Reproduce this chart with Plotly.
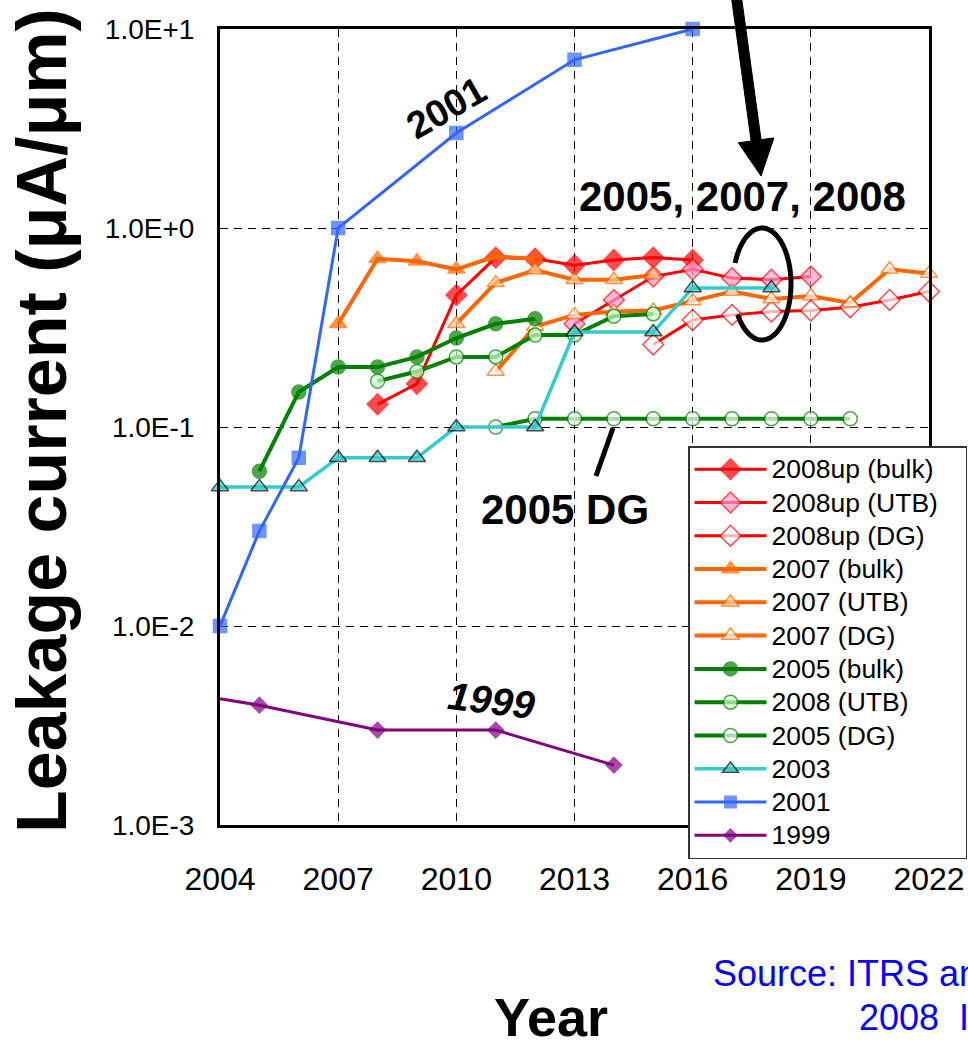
import numpy as np
import plotly.graph_objects as go

# ---------------- data (leakage current, uA/um) ----------------
years_08up_bulk = [2008, 2009, 2010, 2011, 2012, 2013, 2014, 2015, 2016]
leak_08up_bulk = [0.13, 0.165, 0.46, 0.71, 0.70, 0.65, 0.69, 0.71, 0.69]

years_08up_utb = [2013, 2014, 2015, 2016, 2017, 2018, 2019]
leak_08up_utb = [0.33, 0.435, 0.57, 0.62, 0.56, 0.55, 0.57]

years_08up_dg = [2015, 2016, 2017, 2018, 2019, 2020, 2021, 2022]
leak_08up_dg = [0.26, 0.345, 0.366, 0.38, 0.385, 0.40, 0.435, 0.48]

years_07_bulk = [2007, 2008, 2009, 2010, 2011, 2012]
leak_07_bulk = [0.33, 0.70, 0.68, 0.62, 0.72, 0.70]

years_07_utb = [2010, 2011, 2012, 2013, 2014, 2015]
leak_07_utb = [0.33, 0.53, 0.615, 0.55, 0.55, 0.58]

years_07_dg = [2011, 2012, 2013, 2014, 2015, 2016, 2017, 2018, 2019, 2020, 2021, 2022]
leak_07_dg = [0.19, 0.32, 0.366, 0.38, 0.385, 0.43, 0.48, 0.44, 0.455, 0.42, 0.62, 0.59]

years_05_bulk = [2005, 2006, 2007, 2008, 2009, 2010, 2011, 2012]
leak_05_bulk = [0.06, 0.15, 0.20, 0.20, 0.225, 0.28, 0.33, 0.35]

years_08_utb = [2008, 2009, 2010, 2011, 2012, 2013, 2014, 2015]
leak_08_utb = [0.17, 0.19, 0.225, 0.225, 0.29, 0.29, 0.36, 0.37]

years_05_dg = [2011, 2012, 2013, 2014, 2015, 2016, 2017, 2018, 2019, 2020]
leak_05_dg = [0.10, 0.11, 0.11, 0.11, 0.11, 0.11, 0.11, 0.11, 0.11, 0.11]

years_03 = [2003, 2004, 2005, 2006, 2007, 2008, 2009, 2010, 2012, 2013, 2015, 2016, 2018]
leak_03 = [0.03, 0.05, 0.05, 0.05, 0.07, 0.07, 0.07, 0.10, 0.10, 0.30, 0.30, 0.50, 0.50]

years_01 = [2003, 2004, 2005, 2006, 2007, 2010, 2013, 2016]
leak_01 = [0.08, 0.01, 0.03, 0.07, 1.0, 3.0, 7.0, 10.0]

years_99 = [2002, 2005, 2008, 2011, 2014]
leak_99 = [0.005, 0.004, 0.003, 0.003, 0.002]

x_ticks = [2004, 2007, 2010, 2013, 2016, 2019, 2022]
y_ticks = [1e-3, 1e-2, 1e-1, 1e0, 1e1]
y_tick_text = ["1.0E-3", "1.0E-2", "1.0E-1", "1.0E+0", "1.0E+1"]

# ---------------- styling ----------------
RED, PINK = "#FF0000", "#FF99CC"
ORANGE, PEACH = "#FF6600", "#FFCC99"
GREEN, LIGHTGREEN = "#008000", "#CCFFCC"
CYAN, BLUE, PURPLE = "#33CCCC", "#3366FF", "#800080"

FONT = "Liberation Sans, Arial, sans-serif"

series = [
    ("2008up (bulk)", years_08up_bulk, leak_08up_bulk, RED, 3, "diamond", 16, RED, RED),
    ("2008up (UTB)", years_08up_utb, leak_08up_utb, RED, 3, "diamond", 16, PINK, RED),
    ("2008up (DG)", years_08up_dg, leak_08up_dg, RED, 3, "diamond", 16, "white", RED),
    ("2007 (bulk)", years_07_bulk, leak_07_bulk, ORANGE, 4, "triangle-up", 15, ORANGE, ORANGE),
    ("2007 (UTB)", years_07_utb, leak_07_utb, ORANGE, 4, "triangle-up", 15, PEACH, ORANGE),
    ("2007 (DG)", years_07_dg, leak_07_dg, ORANGE, 4, "triangle-up", 15, "white", ORANGE),
    ("2005 (bulk)", years_05_bulk, leak_05_bulk, GREEN, 4, "circle", 14, GREEN, GREEN),
    ("2008 (UTB)", years_08_utb, leak_08_utb, GREEN, 4, "circle", 14, LIGHTGREEN, GREEN),
    ("2005 (DG)", years_05_dg, leak_05_dg, GREEN, 4, "circle", 14, "white", GREEN),
    ("2003", years_03, leak_03, CYAN, 3.5, "triangle-up", 15, CYAN, "black"),
    ("2001", years_01, leak_01, BLUE, 3, "square", 13, BLUE, BLUE),
    ("1999", years_99, leak_99, PURPLE, 3, "diamond", 12, PURPLE, PURPLE),
]

X_MIN, X_MAX = x_ticks[0], x_ticks[-1]
PAD = "\u00a0" * 3  # widens the legend box toward the right edge

fig = go.Figure()
for name, xs, ys, lc, lw, sym, ms, fill, edge in series:
    # points before the first axis year only feed the line that runs off the frame
    sizes = [0 if x < X_MIN else ms for x in xs]
    fig.add_trace(go.Scatter(
        x=xs, y=ys, mode="lines+markers",
        name='<span style="font-size:26.5px">' + name + PAD + "</span>",
        line=dict(color=lc, width=lw),
        marker=dict(symbol=sym, size=sizes, color=fill,
                    line=dict(color=edge, width=1.5)),
        cliponaxis=False,
    ))

# ---------------- frame geometry (pixels) ----------------
W, H = 968, 1047
L, R, T, B = 220, 929, 29, 825


def paper(px, py):
    return (px - L) / (R - L), (B - py) / (B - T)


def path_from(points):
    pts = [paper(x, y) for x, y in points]
    return "M" + " L".join(f"{x:.5f},{y:.5f}" for x, y in pts)


shapes = []

# bold arrow pointing at the grouped curves
tail = np.array([736.0, -6.0])
tip = np.array([761.0, 176.0])
d = (tip - tail) / np.linalg.norm(tip - tail)
n = np.array([d[1], -d[0]])
base = tip - 36 * d
arrow = [tail + 5 * n, base + 5 * n, base + 18 * n, tip,
         base - 18 * n, base - 5 * n, tail - 5 * n]
shapes.append(dict(type="path", xref="paper", yref="paper",
                   path=path_from(arrow) + " Z",
                   fillcolor="black", line=dict(color="black", width=1)))

# open ellipse around the clustered curves
t = np.radians(np.linspace(-147, 158, 80))
cx, cy, rx, ry = 762, 284, 29, 56
ell = list(zip(cx + rx * np.cos(t), cy - ry * np.sin(t)))
shapes.append(dict(type="path", xref="paper", yref="paper",
                   path=path_from(ell), line=dict(color="black", width=5)))

# leader line for the 2005 DG label
shapes.append(dict(type="path", xref="paper", yref="paper",
                   path=path_from([(613, 428), (596, 476)]),
                   line=dict(color="black", width=5)))

annotations = []


def label(text, px, py, size, angle=0, color="black", xanchor="center"):
    x, y = paper(px, py)
    annotations.append(dict(text=text, x=x, y=y, xref="paper", yref="paper",
                            showarrow=False, textangle=angle, xanchor=xanchor,
                            yanchor="middle", font=dict(size=size, family=FONT, color=color)))


label("<b>2001</b>", 446, 108, 38, angle=-30)
label("<b>2005, 2007, 2008</b>", 742, 196, 42)
label("<b>2005 DG</b>", 565, 510, 42)
label("<b><i>1999</i></b>", 491, 700, 39, angle=7)
label("<b>Leakage current (μA/μm)</b>", 42, 421, 70, angle=-90)
label("<b>Year</b>", 551, 1017, 54)
label("Source: ITRS and", 711, 973, 36, color="#0000FF", xanchor="left")
label("2008  ITRS update", 857, 1017, 36, color="#0000FF", xanchor="left")

lx, ly = paper(688, 446)

fig.update_layout(
    width=W, height=H,
    margin=dict(l=L, r=W - R, t=T, b=H - B, autoexpand=False),
    paper_bgcolor="white", plot_bgcolor="white",
    shapes=shapes, annotations=annotations,
    showlegend=True,
    legend=dict(x=lx, y=ly, xanchor="left", yanchor="top",
                bgcolor="white", bordercolor="#333333", borderwidth=1.5,
                font=dict(size=23.3, family=FONT, color="black"),
                itemwidth=72, tracegroupgap=0),
    xaxis=dict(range=[X_MIN, X_MAX], tickvals=x_ticks, ticks="",
               showgrid=True, gridcolor="black", gridwidth=1, griddash="8px,6px",
               showline=True, linecolor="black", linewidth=3, mirror=True,
               zeroline=False, ticklabelstandoff=24, ticklabeloverflow="allow",
               tickfont=dict(size=32, family=FONT, color="black")),
    yaxis=dict(type="log", range=[-3, 1], tickvals=y_ticks, ticktext=y_tick_text,
               ticks="", showgrid=True, gridcolor="black", gridwidth=1,
               griddash="8px,6px", showline=True, linecolor="black", linewidth=3,
               mirror=True, zeroline=False, ticklabelstandoff=17,
               ticklabeloverflow="allow",
               tickfont=dict(size=28, family=FONT, color="black")),
)

fig.write_html("out.html")
